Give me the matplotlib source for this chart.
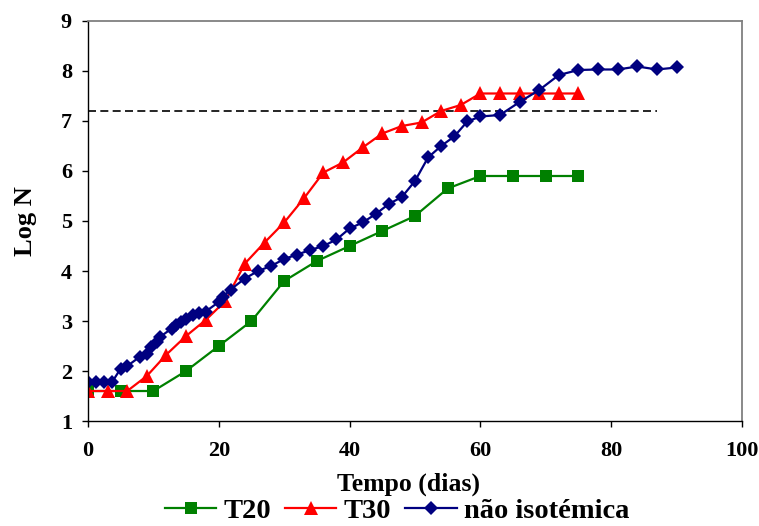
import matplotlib
matplotlib.use("Agg")
import matplotlib.pyplot as plt

plt.rcParams['font.family'] = ['Liberation Serif', 'DejaVu Serif']
plt.rcParams['font.weight'] = 'bold'

# T20 series
t20_x = [0, 5, 10, 15, 20, 25, 30, 35, 40, 45, 50, 55, 60, 65, 70, 75]
t20_y = [1.6, 1.6, 1.6, 2.0, 2.5, 3.0, 3.8, 4.2, 4.5, 4.8, 5.1, 5.65, 5.9, 5.9, 5.9, 5.9]

# T30 series
t30_x = [0, 3, 6, 9, 12, 15, 18, 21, 24, 27, 30, 33, 36, 39, 42, 45, 48, 51,
         54, 57, 60, 63, 66, 69, 72, 75]
t30_y = [1.6, 1.6, 1.6, 1.9, 2.33, 2.7, 3.02, 3.4, 4.15, 4.57, 4.97, 5.45, 5.97, 6.17,
         6.47, 6.75, 6.9, 6.97, 7.2, 7.32, 7.55, 7.55, 7.55, 7.55, 7.55, 7.55]

# non-isothermal series
ni_x = [0, 1.3, 2.5, 3.7, 5, 6, 8, 9, 9.7, 10.5, 11, 12.8, 13.5, 14.3, 15, 16, 17, 18,
        20, 20.7, 21.8, 24, 26, 28, 30, 32, 34, 36, 38, 40, 42, 44, 46, 48, 50, 52,
        54, 56, 58, 60, 63, 66, 69, 72, 75, 78, 81, 84, 87, 90]
ni_y = [1.78, 1.78, 1.78, 1.78, 2.05, 2.1, 2.29, 2.35, 2.49, 2.59, 2.68, 2.85, 2.92,
        2.99, 3.05, 3.12, 3.17, 3.19, 3.38, 3.49, 3.63, 3.85, 4.0, 4.1, 4.24, 4.33,
        4.42, 4.5, 4.63, 4.85, 4.97, 5.14, 5.34, 5.48, 5.8, 6.27, 6.5, 6.69, 6.99,
        7.09, 7.12, 7.38, 7.62, 7.92, 8.02, 8.03, 8.03, 8.09, 8.03, 8.07]

# reference level (dashed)
ref_x = [0, 87]
ref_y = [7.19, 7.19]

x_ticks = [0, 20, 40, 60, 80, 100]
y_ticks = [1, 2, 3, 4, 5, 6, 7, 8, 9]

fig = plt.figure(figsize=(7.59, 5.26), dpi=100)
ax = fig.add_axes([0.1159, 0.1996, 0.8617, 0.7605])

ax.plot(ref_x, ref_y, color='black', lw=1.2, dashes=(4.8, 2.6))
l1, = ax.plot(t20_x, t20_y, color='#008000', lw=1.6, marker='s', ms=9,
              markeredgewidth=0, label='T20')
l2, = ax.plot(t30_x, t30_y, color='#ff0000', lw=1.6, marker='^', ms=10.5,
              markeredgewidth=0, label='T30')
l3, = ax.plot(ni_x, ni_y, color='#000080', lw=1.6, marker='D', ms=7,
              markeredgewidth=0, label='não isotémica')

ax.set_xlim(0, 100)
ax.set_ylim(1, 9)
ax.set_xticks(x_ticks)
ax.set_yticks(y_ticks)
ax.tick_params(axis='both', direction='out', length=4.5, width=1, labelsize=16)
ax.tick_params(axis='x', pad=10)
ax.tick_params(axis='y', pad=7)

for side in ['top', 'right']:
    ax.spines[side].set_color('#808080')
    ax.spines[side].set_linewidth(1.3)
for side in ['left', 'bottom']:
    ax.spines[side].set_color('black')
    ax.spines[side].set_linewidth(1.0)

ax.set_xlabel('Tempo (dias)', fontsize=18.5, fontweight='bold')
ax.set_ylabel('Log N', fontsize=19, fontweight='bold')
ax.xaxis.set_label_coords(0.49, -0.128)
ax.yaxis.set_label_coords(-0.078, 0.5)

fig.legend(handles=[l1, l2, l3], loc='center', bbox_to_anchor=(397 / 759, 1 - 511 / 526),
           ncol=3, frameon=False, fontsize=20.5, handlelength=1.8, handletextpad=0.25,
           columnspacing=0.5, borderaxespad=0, borderpad=0)

fig.savefig('out.png', dpi=100)
